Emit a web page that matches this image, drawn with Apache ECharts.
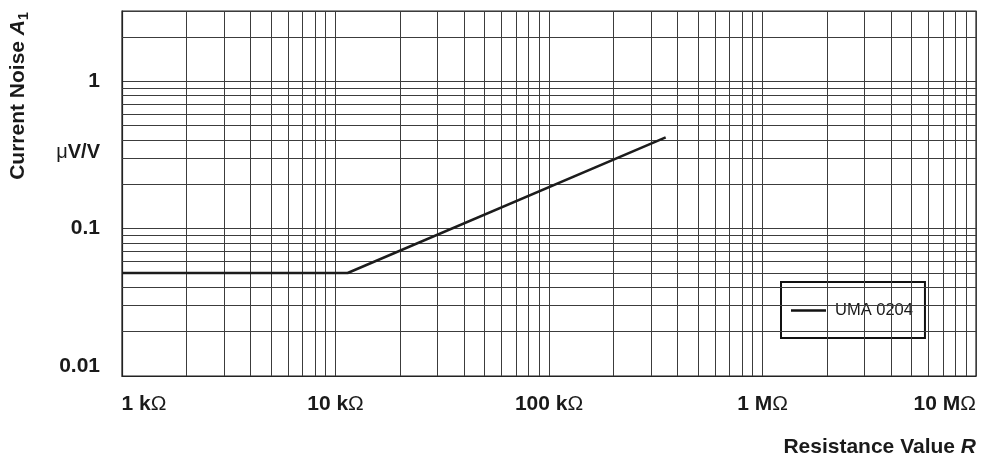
<!DOCTYPE html>
<html>
<head>
<meta charset="utf-8">
<script src="https://cdn.jsdelivr.net/npm/echarts@6/dist/echarts.min.js"></script>
<style>
html,body{margin:0;padding:0;background:#fff;}
#chart{width:981px;height:456px;}
</style>
</head>
<body>
<div id="chart"></div>
<script>
// ---- data ----
const seriesName = 'UMA 0204';
const resistance = [1000, 11400, 352000];      // Ω
const noise = [0.05, 0.05, 0.416];             // µV/V
const xTickValues = [1e3, 1e4, 1e5, 1e6, 1e7];
const xTickLabels = ['1 kΩ', '10 kΩ', '100 kΩ', '1 MΩ', '10 MΩ'];
const yTickValues = [0.01, 0.1, 1];
const yTickLabels = ['0.01', '0.1', '1'];
const xRange = [1e3, 1e7];
const yRange = [0.01, 3];

// minor grid positions (1..9 per decade)
const xMinor = [];
for (let d = 3; d < 7; d++) for (let k = 2; k <= 9; k++) xMinor.push(k * Math.pow(10, d));
const yMinor = [];
for (let d = -2; d <= 0; d++) for (let k = 2; k <= 9; k++) {
  const v = k * Math.pow(10, d);
  if (v < yRange[1] - 1e-9) yMinor.push(v);
}

const FONT = '"Liberation Sans", Arial, Helvetica, sans-serif';
const TXT = '#1a1a1a';
const GRIDC = '#3c3c3c';

function findIndex(vals, v) {
  for (let i = 0; i < vals.length; i++) {
    if (Math.abs(Math.log10(v) - Math.log10(vals[i])) < 1e-6) return i;
  }
  return -1;
}

const chart = echarts.init(document.getElementById('chart'), null, {renderer: 'canvas'});
chart.setOption({
  animation: false,
  backgroundColor: '#fff',
  grid: {left: 122, top: 11, width: 854, height: 365, show: true, borderColor: '#222', borderWidth: 1.2, containLabel: false},
  xAxis: {
    type: 'log', logBase: 10, min: xRange[0], max: xRange[1],
    axisLine: {show: true, lineStyle: {color: '#222', width: 1.2}},
    axisTick: {show: false},
    splitLine: {show: true, lineStyle: {color: GRIDC, width: 1}},
    axisLabel: {
      margin: 18, color: TXT, fontFamily: FONT, fontWeight: 'bold', fontSize: 21,
      alignMaxLabel: 'right',
      formatter: v => {
        const i = findIndex(xTickValues, v);
        if (i < 0) return '';
        const s = xTickLabels[i].replace('Ω', '{o|Ω}');
        return i === 0 ? '{sp| }' + s : s;
      },
      rich: {
        o: {fontFamily: FONT, fontWeight: 'normal', fontSize: 21, color: TXT},
        sp: {width: 44, fontSize: 21}
      }
    }
  },
  yAxis: {
    type: 'log', logBase: 10, min: yRange[0], max: yRange[1],
    axisLine: {show: true, lineStyle: {color: '#222', width: 1.2}},
    axisTick: {show: false},
    splitLine: {show: true, lineStyle: {color: GRIDC, width: 1}},
    axisLabel: {
      margin: 22, color: TXT, fontFamily: FONT, fontWeight: 'bold', fontSize: 21,
      formatter: v => {
        const i = findIndex(yTickValues, v);
        if (i < 0) return '';
        return i === 0 ? '{low|' + yTickLabels[i] + '}' : yTickLabels[i];
      },
      rich: {low: {fontFamily: FONT, fontWeight: 'bold', fontSize: 21, color: TXT, padding: [0, 0, 19, 0]}}
    }
  },
  legend: {
    data: [{name: seriesName, icon: 'rect'}],
    left: 781, top: 282,
    padding: [20, 12, 19, 10],
    backgroundColor: '#fff',
    borderColor: '#111', borderWidth: 2,
    itemWidth: 35, itemHeight: 2.6,
    itemStyle: {color: '#111'},
    textStyle: {fontFamily: FONT, fontSize: 16.5, color: TXT, padding: [0, 0, 0, 4]},
    selectedMode: false
  },
  series: [
    {
      name: 'grid', type: 'line', data: [], z: 1, silent: true,
      markLine: {
        silent: true, symbol: ['none', 'none'], animation: false,
        label: {show: false},
        lineStyle: {color: GRIDC, width: 1, type: 'solid'},
        emphasis: {disabled: true},
        data: xMinor.map(v => ({xAxis: v})).concat(yMinor.map(v => ({yAxis: v})))
      }
    },
    {
      name: seriesName, type: 'line', z: 5,
      data: resistance.map((r, i) => [r, noise[i]]),
      symbol: 'none', showSymbol: false,
      lineStyle: {color: '#1c1c1c', width: 2.5},
      itemStyle: {color: '#1c1c1c'}
    }
  ],
  graphic: [
    {
      type: 'text', x: 18, y: 96, rotation: Math.PI / 2,
      style: {
        text: 'Current Noise {a|A}{s|1}',
        font: 'bold 21px ' + FONT, fill: TXT,
        textAlign: 'center', textVerticalAlign: 'middle',
        rich: {
          a: {fontFamily: FONT, fontWeight: 'bold', fontStyle: 'italic', fontSize: 21, fill: TXT},
          s: {fontFamily: FONT, fontWeight: 'bold', fontSize: 14, fill: TXT, padding: [12, 0, 0, 0]}
        }
      }
    },
    {
      type: 'text', x: 100, y: 152,
      style: {
        text: '{m|μ}V/V',
        font: 'bold 20px ' + FONT, fill: TXT,
        textAlign: 'right', textVerticalAlign: 'middle',
        rich: {m: {fontFamily: FONT, fontWeight: 'normal', fontSize: 20, fill: TXT}}
      }
    },
    {
      type: 'text', x: 976, y: 447,
      style: {
        text: 'Resistance Value {i|R}',
        font: 'bold 21px ' + FONT, fill: TXT,
        textAlign: 'right', textVerticalAlign: 'middle',
        rich: {i: {fontFamily: FONT, fontWeight: 'bold', fontStyle: 'italic', fontSize: 21, fill: TXT}}
      }
    }
  ]
});
</script>
</body>
</html>
